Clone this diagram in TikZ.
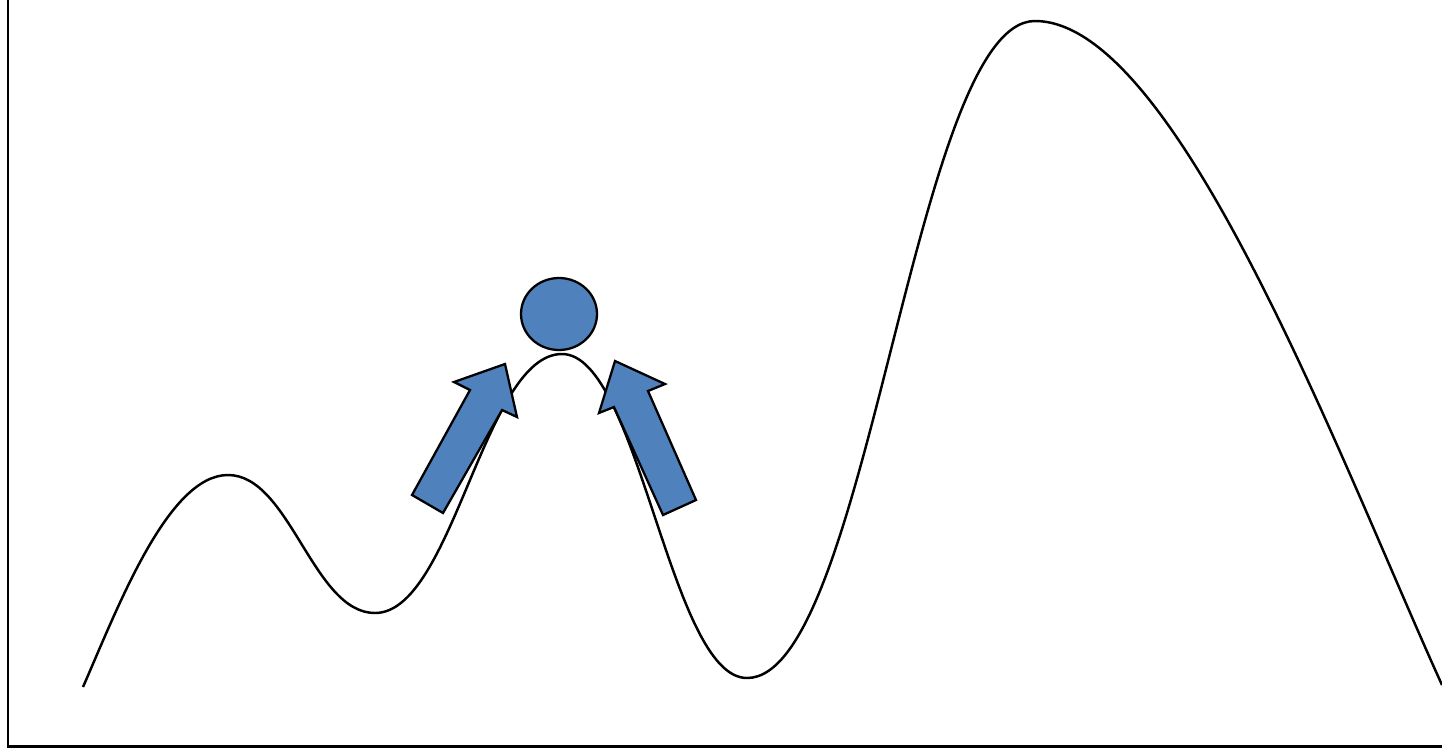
\documentclass[tikz,border=0pt]{standalone}
\usepackage{xcolor}
\usepackage{tikz}
\definecolor{ballblue}{RGB}{79,129,189}

\begin{document}
\begin{tikzpicture}[x=0.02cm, y=-0.02cm,
  axis/.style={line width=1.7pt},
  land/.style={line width=1.4pt, line join=round},
  blob/.style={fill=ballblue, draw=black, line width=1.3pt, line join=miter}]
  \useasboundingbox (0,0) rectangle (1442,748);

  % Axes
  \draw[axis] (8,0) -- (8,746) -- (1442,746);

  % Energy landscape
  \draw[land] (83,687)
    .. controls (118,607) and (168,475) .. (228,475)   % first hill
    .. controls (290,475) and (313,613) .. (375,613)   % first valley
    .. controls (453,613) and (484,354) .. (562,354)   % small peak
    .. controls (639,354) and (670,678) .. (747,678)   % deep valley
    .. controls (868,678) and (914,21) .. (1035,21)    % big peak
    .. controls (1177,21) and (1342,465) .. (1442,685);

  % Ball on top
  \draw[blob] (559,314) ellipse [x radius=38, y radius=36];

  % Push arrows
  \draw[blob] (412,495) -- (470,390) -- (454,382) -- (505,364)
    -- (517,417) -- (502,410) -- (443,513) -- cycle;
  \draw[blob] (615,361) -- (665,384) -- (648,391) -- (696,500)
    -- (663,515) -- (614,407) -- (599,413) -- cycle;
\end{tikzpicture}
\end{document}
